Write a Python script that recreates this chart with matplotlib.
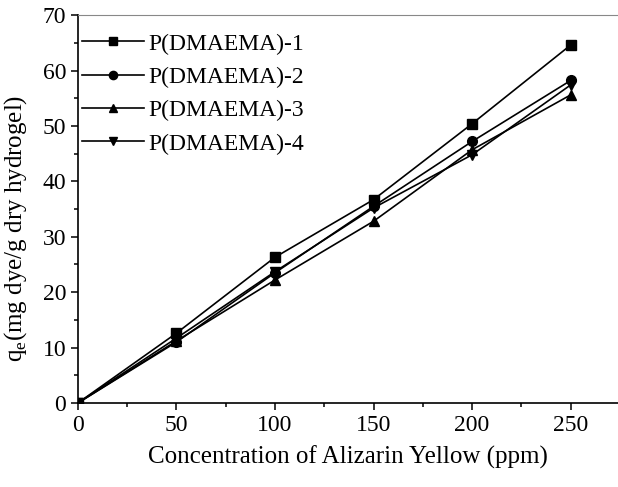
import matplotlib.pyplot as plt

# adsorption capacity vs initial dye concentration
conc = [0, 50, 100, 150, 200, 250]
qe_1 = [0, 12.6, 26.3, 36.7, 50.4, 64.6]
qe_2 = [0, 11.0, 23.5, 35.5, 47.2, 58.2]
qe_3 = [0, 11.2, 22.2, 32.8, 45.7, 55.6]
qe_4 = [0, 11.7, 23.7, 35.2, 44.8, 57.4]
labels = ['P(DMAEMA)-1', 'P(DMAEMA)-2', 'P(DMAEMA)-3', 'P(DMAEMA)-4']
markers = ['s', 'o', '^', 'v']

plt.rcParams['font.family'] = 'Liberation Serif'

fig = plt.figure(figsize=(6.18, 4.87), dpi=100)
ax = fig.add_axes([0.126, 0.1725, 0.874, 0.7965])

for y, lab, m in zip([qe_1, qe_2, qe_3, qe_4], labels, markers):
    ax.plot(conc, y, color='black', lw=1.2, marker=m, ms=7, label=lab)

ax.set_xlim(0, 274)
ax.set_ylim(0, 70)
ax.set_xticks(range(0, 251, 50))
ax.set_yticks(range(0, 71, 10))
ax.set_xticks(range(25, 251, 50), minor=True)
ax.set_yticks(range(5, 70, 10), minor=True)
ax.tick_params(which='both', direction='out', labelsize=17, top=False, right=False, width=1.1)
ax.tick_params(which='major', length=5)
ax.tick_params(which='minor', length=3)
ax.spines['top'].set_color('#888888')
ax.spines['right'].set_visible(False)
ax.spines['left'].set_linewidth(1.2)
ax.spines['bottom'].set_linewidth(1.2)

ax.set_xlabel('Concentration of Alizarin Yellow (ppm)', fontsize=18, labelpad=7)
ax.set_ylabel(r'q$_\mathregular{e}$(mg dye/g dry hydrogel)', fontsize=18, labelpad=4)
ax.yaxis.set_label_coords(-0.09, 0.45)

ax.legend(loc='upper left', frameon=False, fontsize=17, handlelength=2.6,
          handletextpad=0.2, labelspacing=0.5, borderaxespad=0.0,
          bbox_to_anchor=(-0.009, 0.978), markerscale=0.85)

fig.savefig('out.png', dpi=100)
